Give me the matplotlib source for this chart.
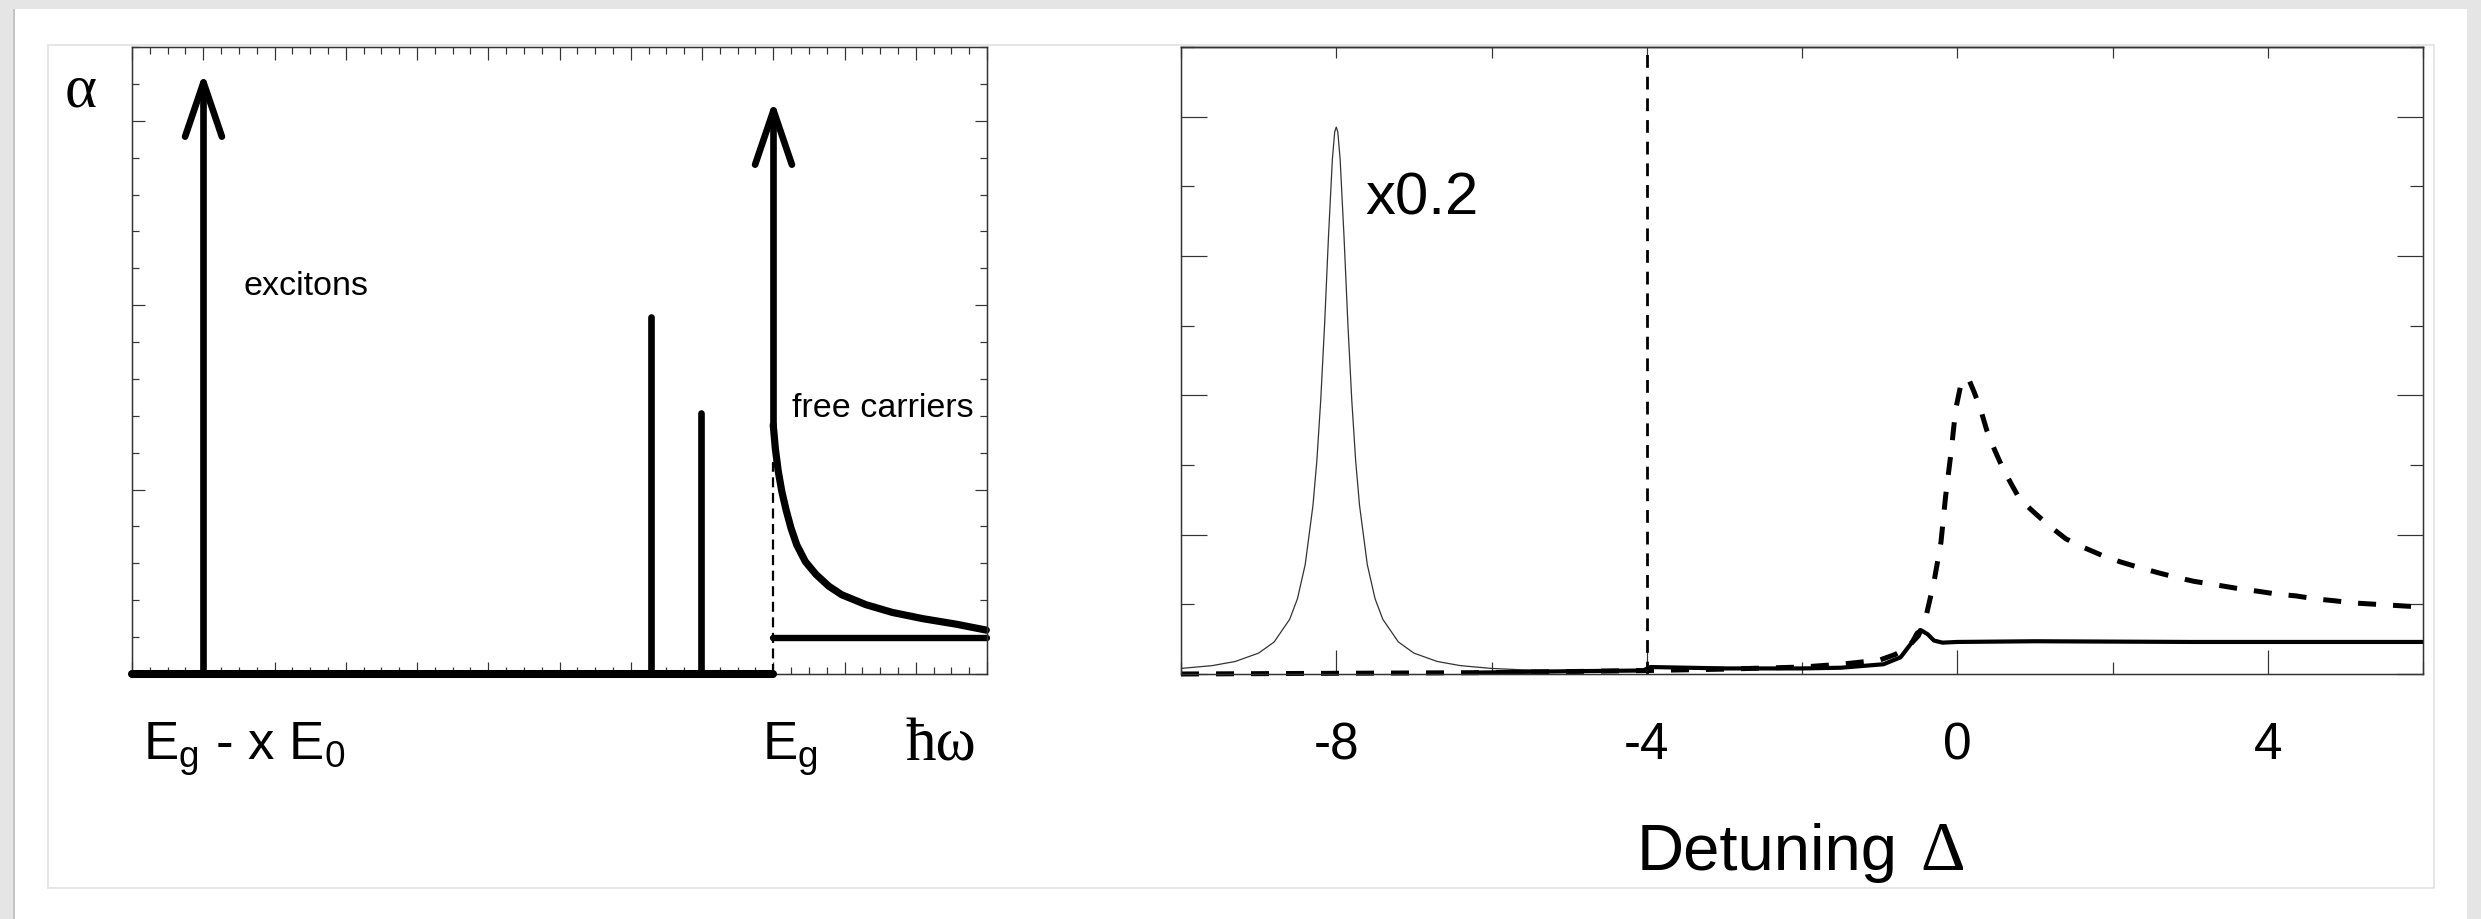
import numpy as np
import matplotlib
matplotlib.use('Agg')
import matplotlib.pyplot as plt
from matplotlib.patches import Rectangle
from matplotlib.path import Path
from matplotlib.markers import MarkerStyle
from matplotlib.ticker import MultipleLocator

plt.rcParams['font.family'] = ['Liberation Sans', 'DejaVu Sans']
plt.rcParams['mathtext.fontset'] = 'custom'
plt.rcParams['mathtext.rm'] = 'Liberation Sans'

# left panel: schematic absorption (x in arb. units, Eg at 9)
exc_x = [1.0, 7.28, 7.98]          # exciton lines
exc_h = [16.06, 9.67, 7.09]
e_gap = 9.0
gap_arrow_top = 15.3
fc_x = [9.0, 9.03, 9.07, 9.12, 9.18, 9.25, 9.33, 9.45, 9.6, 9.78, 9.96, 10.3, 10.67, 11.1, 11.57, 11.99]
fc_y = [6.75, 6.1, 5.5, 4.95, 4.45, 3.95, 3.5, 3.05, 2.7, 2.38, 2.15, 1.88, 1.67, 1.5, 1.35, 1.19]
cont_level = 0.97
edge_dash_top = 5.74

# right panel: spectra vs detuning
lor_x = [-10, -9.6, -9.3, -9.0, -8.8, -8.6, -8.5, -8.4, -8.3, -8.25, -8.2, -8.15, -8.1, -8.05, -8.02, -8.0,
         -7.98, -7.95, -7.9, -7.85, -7.8, -7.75, -7.7, -7.6, -7.5, -7.4, -7.2, -7.0, -6.7, -6.4, -6.0, -5.6, -5.2]
lor_y = [0.08, 0.12, 0.18, 0.30, 0.46, 0.785, 1.08, 1.57, 2.42, 3.06, 3.93, 5.02, 6.28, 7.39, 7.78, 7.85,
         7.78, 7.39, 6.28, 5.02, 3.93, 3.06, 2.42, 1.57, 1.08, 0.785, 0.46, 0.30, 0.18, 0.12, 0.08, 0.06, 0.05]

dash_x = [-10, -8, -6, -4, -3, -2, -1.5, -1.0, -0.8, -0.65, -0.5, -0.41, -0.30, -0.21, -0.15, -0.08, -0.02,
          0.04, 0.1, 0.16, 0.22, 0.3, 0.38, 0.48, 0.58, 0.69, 0.8, 0.95, 1.1, 1.25, 1.4, 1.6, 1.87, 2.1,
          2.34, 2.6, 2.81, 3.05, 3.33, 3.6, 3.86, 4.1, 4.37, 4.6, 4.87, 5.1, 5.4, 5.7, 6.0]
dash_y = [0.0, 0.01, 0.02, 0.05, 0.07, 0.1, 0.14, 0.2, 0.28, 0.37, 0.55, 0.79, 1.32, 1.89, 2.55, 3.18, 3.8,
          4.12, 4.25, 4.2, 4.04, 3.8, 3.5, 3.22, 2.97, 2.74, 2.52, 2.36, 2.21, 2.07, 1.94, 1.83, 1.70, 1.61,
          1.53, 1.45, 1.39, 1.33, 1.28, 1.23, 1.19, 1.15, 1.12, 1.08, 1.05, 1.02, 1.00, 0.98, 0.96]

sol_x = [-6.2, -5.0, -4.05, -3.95, -3.0, -2.0, -1.5, -0.95, -0.73, -0.6, -0.52, -0.47, -0.38, -0.3, -0.19,
         0.0, 1.0, 3.0, 6.0]
sol_y = [0.02, 0.04, 0.05, 0.1, 0.08, 0.08, 0.09, 0.14, 0.24, 0.43, 0.59, 0.63, 0.57, 0.48, 0.45,
         0.46, 0.47, 0.46, 0.46]

pump_x = -4
xtick_vals = [-8, -4, 0, 4]
xtick_labels = ['-8', '-4', '0', '4']

W, H = 2481, 919
fig = plt.figure(figsize=(W / 100, H / 100), dpi=100, facecolor='#e5e5e5')

# slide background
fig.patches.append(Rectangle((15 / W, 0), (2467 - 15) / W, (H - 9) / H, transform=fig.transFigure,
                             facecolor='white', edgecolor='none', zorder=-10))
fig.patches.append(Rectangle((13 / W, 0), 2 / W, (H - 9) / H, transform=fig.transFigure,
                             facecolor='#c4c4c4', edgecolor='none', zorder=-9))
fig.patches.append(Rectangle((48 / W, 1 - 888 / H), (2434 - 48) / W, (888 - 45) / H, transform=fig.transFigure,
                             facecolor='none', edgecolor='#e2e2e2', lw=1.2, zorder=-8))

spine_c = '#333333'
lw_px = 1 / 1.389  # one pixel in points
serif = ['Liberation Serif', 'DejaVu Serif']

# open "^" arrow head, tip at the origin of the marker
head = MarkerStyle(Path([(-0.34, -1.0), (0.0, 0.0), (0.34, -1.0)], [Path.MOVETO, Path.LINETO, Path.LINETO]),
                   fillstyle='none', joinstyle='round', capstyle='round')
head_kw = dict(marker=head, markersize=78, markeredgewidth=4.8, color='black', linestyle='none')

# ---------- left panel ----------
ax1 = fig.add_axes([132 / W, 1 - 674 / H, 855 / W, 627 / H])
ax1.set_xlim(0, 12)
ax1.set_ylim(0, 17)
ax1.xaxis.set_major_locator(MultipleLocator(1))
ax1.xaxis.set_minor_locator(MultipleLocator(0.25))
ax1.yaxis.set_major_locator(MultipleLocator(5))
ax1.yaxis.set_minor_locator(MultipleLocator(1))
ax1.tick_params(which='both', direction='in', top=True, right=True, labelbottom=False, labelleft=False,
                color=spine_c, width=1.2 * lw_px)
ax1.tick_params(which='major', length=9)
ax1.tick_params(which='minor', length=5)
for s in ax1.spines.values():
    s.set_color(spine_c)
    s.set_linewidth(1.5 * lw_px)

ax1.plot([0, e_gap], [0, 0], color='black', lw=5.8, solid_capstyle='round', clip_on=False, zorder=5)
ax1.plot([exc_x[0], exc_x[0]], [0, exc_h[0]], color='black', lw=4.8, solid_capstyle='round')
ax1.plot([exc_x[0]], [exc_h[0]], **head_kw)
for x, h in zip(exc_x[1:], exc_h[1:]):
    ax1.plot([x, x], [0, h], color='black', lw=4.8, solid_capstyle='round')
ax1.plot([e_gap, e_gap], [fc_y[0], gap_arrow_top], color='black', lw=4.8, solid_capstyle='round')
ax1.plot([e_gap], [gap_arrow_top], **head_kw)
ax1.plot(fc_x, fc_y, color='black', lw=5.2, solid_capstyle='round', solid_joinstyle='round', clip_on=False)
ax1.plot([e_gap, 12], [cont_level, cont_level], color='black', lw=4.6, solid_capstyle='round', clip_on=False)
ax1.plot([e_gap, e_gap], [0, edge_dash_top], color='black', lw=1.6, dashes=(4.5, 2.5))

ax1.text(1.57, 10.27, 'excitons', fontsize=24.5, va='baseline', ha='left')
ax1.text(9.26, 6.98, 'free carriers', fontsize=24.5, va='baseline', ha='left')
ax1.text(-0.72, 15.8, '\u03b1', fontsize=44, family=serif, ha='center', va='center', clip_on=False)
ax1.text(0.15, -2.34, 'E$_\\mathregular{g}$ - x E$_\\mathregular{0}$', fontsize=38, va='baseline',
         ha='left', clip_on=False)
ax1.text(8.84, -2.34, 'E$_\\mathregular{g}$', fontsize=38, va='baseline', ha='left', clip_on=False)
ax1.text(10.85, -2.34, '\u0127\u03c9', fontsize=44, family=serif, va='baseline', ha='left', clip_on=False)

# ---------- right panel ----------
ax2 = fig.add_axes([1181 / W, 1 - 674 / H, 1242 / W, 627 / H])
ax2.set_xlim(-10, 6)
ax2.set_ylim(0, 9)
ax2.set_xticks(xtick_vals)
ax2.set_xticklabels(xtick_labels, fontsize=37)
ax2.xaxis.set_minor_locator(MultipleLocator(2))
ax2.yaxis.set_major_locator(MultipleLocator(2))
ax2.yaxis.set_minor_locator(MultipleLocator(1))
ax2.tick_params(which='both', direction='in', right=True, labelleft=False, color=spine_c, width=1.2 * lw_px)
ax2.tick_params(axis='x', which='major', length=17, pad=34)
ax2.tick_params(axis='x', which='minor', length=8.6)
ax2.tick_params(axis='y', which='major', length=19)
ax2.tick_params(axis='y', which='minor', length=9.4)
for s in ax2.spines.values():
    s.set_color(spine_c)
    s.set_linewidth(1.5 * lw_px)
sec = ax2.secondary_xaxis('top')
sec.set_xticks(np.arange(-10, 7, 2))
sec.tick_params(direction='in', length=7.6, color=spine_c, width=1.2 * lw_px, labeltop=False)
sec.spines['top'].set_color(spine_c)
sec.spines['top'].set_linewidth(1.5 * lw_px)

ax2.plot(lor_x, lor_y, color='#333333', lw=0.9, solid_joinstyle='round')
ax2.plot(dash_x, dash_y, color='black', lw=3.6, dashes=(3.6, 3.4), clip_on=False)
ax2.plot(sol_x, sol_y, color='black', lw=3.0, solid_joinstyle='round')
ax2.axvline(pump_x, color='black', lw=2.0, dashes=(4.6, 3.2))

ax2.text(-7.63, 6.59, 'x0.2', fontsize=43, va='baseline', ha='left')
ax2.text(0.577, -0.3126, 'Detuning', fontsize=47, va='baseline', ha='right', transform=ax2.transAxes)
ax2.text(0.595, -0.3126, '\u0394', fontsize=50, family=serif, va='baseline', ha='left',
         transform=ax2.transAxes)

fig.savefig('out.png', dpi=100, facecolor=fig.get_facecolor())
